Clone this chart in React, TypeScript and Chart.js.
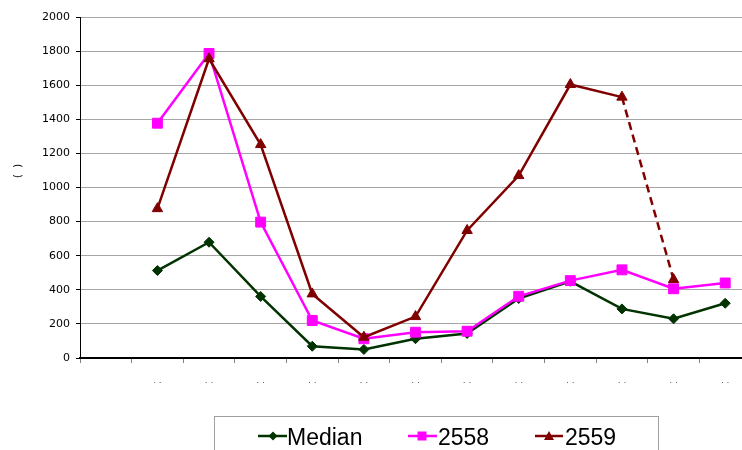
import React, { useEffect, useRef } from 'react';
import { Chart, registerables } from 'chart.js';

Chart.register(...registerables);

// ---- data ----
const monthLabels = ['. .', '. .', '. .', '. .', '. .', '. .', '. .', '. .', '. .', '. .', '. .', '. .'];
const medianValues = [513, 679, 361, 69, 50, 113, 144, 349, 450, 288, 230, 321];
const values2558 = [1377, 1786, 797, 220, 113, 151, 157, 362, 454, 517, 406, 440];
const values2559: (number | null)[] = [876, 1755, 1252, 376, 122, 243, 748, 1070, 1604, 1530, 460, null];
const seriesNames = ['Median', '2558', '2559'];
const yAxisTitle = '(  )';
const yMin = 0;
const yMax = 2000;
const yStep = 200;
const dashedSegmentStart = 9; // 2559: segment from month index 9 to 10 is dashed

const colors = ['#003300', '#FF00FF', '#800000'];
const pointStyles = ['rectRot', 'rect', 'triangle'];

const withLead = (arr: (number | null)[]) => [null, ...arr];

const legendPlugin = {
  id: 'customLegend',
  afterDraw(chart: any) {
    const ctx = chart.ctx;
    ctx.save();
    // y axis title
    ctx.save();
    ctx.translate(18, 171);
    ctx.rotate(-Math.PI / 2);
    ctx.font = '10px "DejaVu Sans"';
    ctx.fillStyle = '#000';
    ctx.textAlign = 'center';
    ctx.textBaseline = 'middle';
    ctx.fillText(yAxisTitle, 0, 0);
    ctx.restore();

    // legend box
    ctx.strokeStyle = '#a0a0a0';
    ctx.lineWidth = 1;
    ctx.strokeRect(214.5, 416.5, 444, 60);

    const items = [
      { x0: 258, x1: 287, mx: 273, tx: 287 },
      { x0: 408, x1: 437, mx: 422, tx: 438 },
      { x0: 535, x1: 563, mx: 549, tx: 565 },
    ];
    const ly = 436;
    items.forEach((it, i) => {
      ctx.strokeStyle = colors[i];
      ctx.fillStyle = colors[i];
      ctx.lineWidth = 2.5;
      ctx.setLineDash([]);
      ctx.beginPath();
      ctx.moveTo(it.x0, ly);
      ctx.lineTo(it.x1, ly);
      ctx.stroke();
      ctx.beginPath();
      if (i === 0) {
        const r = 4.5;
        ctx.moveTo(it.mx, ly - r);
        ctx.lineTo(it.mx + r, ly);
        ctx.lineTo(it.mx, ly + r);
        ctx.lineTo(it.mx - r, ly);
        ctx.closePath();
      } else if (i === 1) {
        ctx.rect(it.mx - 4.5, ly - 4.5, 9, 9);
      } else {
        ctx.moveTo(it.mx, ly - 5);
        ctx.lineTo(it.mx + 5, ly + 4);
        ctx.lineTo(it.mx - 5, ly + 4);
        ctx.closePath();
      }
      ctx.fill();
      ctx.fillStyle = '#000';
      ctx.font = '23px "Liberation Sans"';
      ctx.textAlign = 'left';
      ctx.textBaseline = 'alphabetic';
      ctx.fillText(chart.data.datasets[i].label, it.tx, 445);
    });
    ctx.restore();
  },
};

export default function App() {
  const ref = useRef<HTMLCanvasElement>(null);
  useEffect(() => {
    if (!ref.current) return;
    const tickFont = { family: '"DejaVu Sans"', size: 11 };
    const chart = new Chart(ref.current, {
      type: 'line',
      data: {
        labels: ['', ...monthLabels],
        datasets: [
          {
            label: seriesNames[0],
            data: withLead(medianValues),
            borderColor: colors[0],
            backgroundColor: colors[0],
            borderWidth: 2.5,
            pointStyle: pointStyles[0],
            pointRadius: 5,
            pointBorderWidth: 1,
            order: 3,
            tension: 0,
          },
          {
            label: seriesNames[1],
            data: withLead(values2558),
            borderColor: colors[1],
            backgroundColor: colors[1],
            borderWidth: 2.5,
            pointStyle: pointStyles[1],
            pointRadius: 7,
            pointBorderWidth: 1,
            order: 2,
            tension: 0,
          },
          {
            label: seriesNames[2],
            data: withLead(values2559),
            borderColor: colors[2],
            backgroundColor: colors[2],
            borderWidth: 2.5,
            pointStyle: pointStyles[2],
            pointRadius: 6,
            pointBorderWidth: 1,
            order: 1,
            tension: 0,
            segment: {
              borderDash: (c: any) => (c.p0DataIndex === dashedSegmentStart + 1 ? [8, 5] : undefined),
            },
          },
        ] as any,
      },
      options: {
        animation: false,
        responsive: false,
        devicePixelRatio: 1,
        layout: { padding: { top: 17, right: 9, left: 0, bottom: 0 } },
        plugins: { legend: { display: false }, tooltip: { enabled: false } },
        scales: {
          x: {
            type: 'category',
            offset: true,
            grid: { drawOnChartArea: false, tickLength: 5, color: '#808080', offset: true },
            border: { color: '#000', width: 2 },
            ticks: { font: { family: '"DejaVu Sans"', size: 9 }, color: '#555', padding: 12, maxRotation: 0, autoSkip: false },
            afterFit: (s: any) => { s.height = 92; },
          },
          y: {
            min: yMin,
            max: yMax,
            ticks: { stepSize: yStep, font: tickFont, color: '#000', padding: 6, callback: (v: any) => String(v) },
            grid: { color: '#a6a6a6', tickLength: 4, tickColor: '#000', lineWidth: 1 },
            border: { color: '#000', width: 1 },
            afterFit: (s: any) => { s.width = 80; },
          },
        },
      } as any,
      plugins: [legendPlugin],
    });
    return () => chart.destroy();
  }, []);
  return (
    <div style={{ position: 'absolute', left: 0, top: 0, width: 742, height: 450, overflow: 'hidden', background: '#fff' }}>
      <canvas ref={ref} width={760} height={450} style={{ display: 'block' }} />
    </div>
  );
}
